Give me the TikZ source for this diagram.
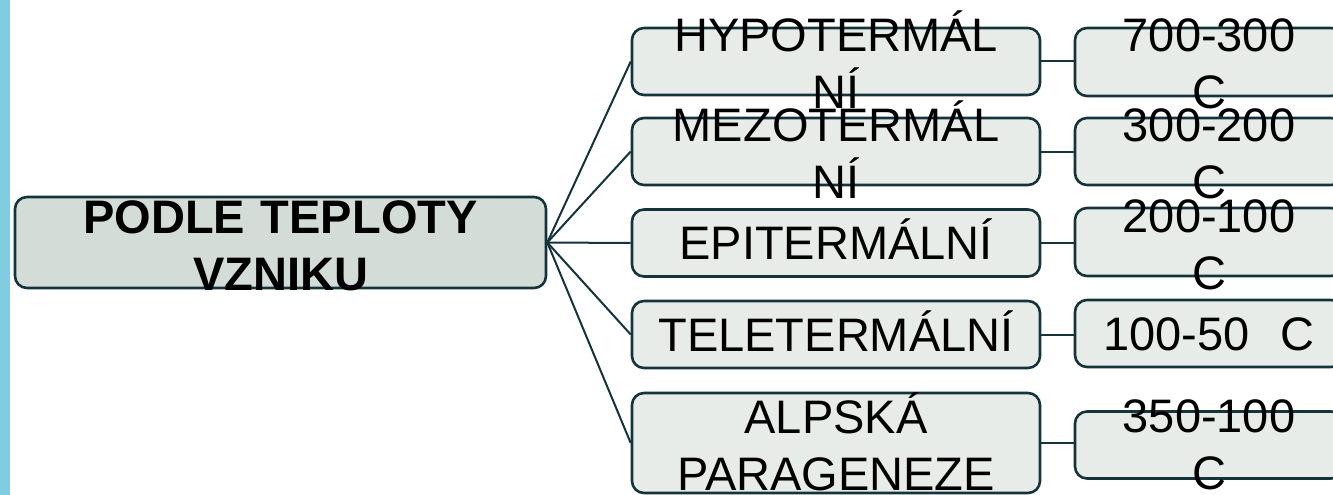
\documentclass[tikz,border=0pt]{standalone}
\usepackage{fontspec}
\setmainfont{Liberation Sans}
\definecolor{bordercol}{HTML}{15333A}
\definecolor{rootfill}{HTML}{D3DCD6}
\definecolor{childfill}{HTML}{E7ECE9}
\definecolor{stripcol}{HTML}{80CDE0}
\begin{document}
\begin{tikzpicture}[x=1pt,y=-1pt,
  box/.style={draw=bordercol, line width=2.6pt, rounded corners=12pt, fill=childfill,
    inner sep=0pt, align=center, font=\fontsize{47}{57}\selectfont},
  kid/.style={box, minimum width=408pt, text width=408pt, minimum height=67pt},
  grand/.style={box, minimum width=268pt, text width=268pt, minimum height=67pt},
  twolines/.style={text height=0pt, text depth=20pt},
  oneline/.style={text height=33pt, text depth=0pt},
  link/.style={draw=bordercol, line width=2pt}]
\clip (0,0) rectangle (1333,495);
\fill[stripcol] (0,0) rectangle (10,495);
% root
\node[box, fill=rootfill, font=\bfseries\fontsize{47}{57}\selectfont,
  minimum width=531pt, text width=531pt, minimum height=91pt,
  text height=0pt, text depth=19pt] (root) at (280.5,242.5) {PODLE TEPLOTY\\VZNIKU};
% children
\node[kid, twolines] (c1) at (836,61.5) {HYPOTERMÁL\\NÍ};
\node[kid, twolines] (c2) at (836,151.5) {MEZOTERMÁL\\NÍ};
\node[kid, oneline] (c3) at (836,243) {EPITERMÁLNÍ};
\node[kid, oneline] (c4) at (836,334.5) {TELETERMÁLNÍ};
\node[kid, twolines, minimum height=100pt] (c5) at (836,443) {ALPSKÁ\\PARAGENEZE};
% grandchildren
\node[grand, twolines, minimum height=68pt] (g1) at (1209,62) {700-300\\C};
\node[grand, twolines] (g2) at (1209,151.5) {300-200\\C};
\node[grand, twolines, minimum height=68pt] (g3) at (1209,242) {200-100\\C};
\node[grand, oneline] (g4) at (1209,333.5) {100-50~~C};
\node[grand, text height=0pt, text depth=26pt] (g5) at (1209,445) {350-100\\C};
% connectors
\foreach \c in {c1,c2,c3,c4,c5}{\draw[link] (root.east) -- (\c.west);}
\draw[link] (c1.east) -- (c1.east -| g1.west);
\draw[link] (c2.east) -- (c2.east -| g2.west);
\draw[link] (c3.east) -- (c3.east -| g3.west);
\draw[link] (c4.east) -- (c4.east -| g4.west);
\draw[link] (c5.east) -- (c5.east -| g5.west);
\end{tikzpicture}
\end{document}
